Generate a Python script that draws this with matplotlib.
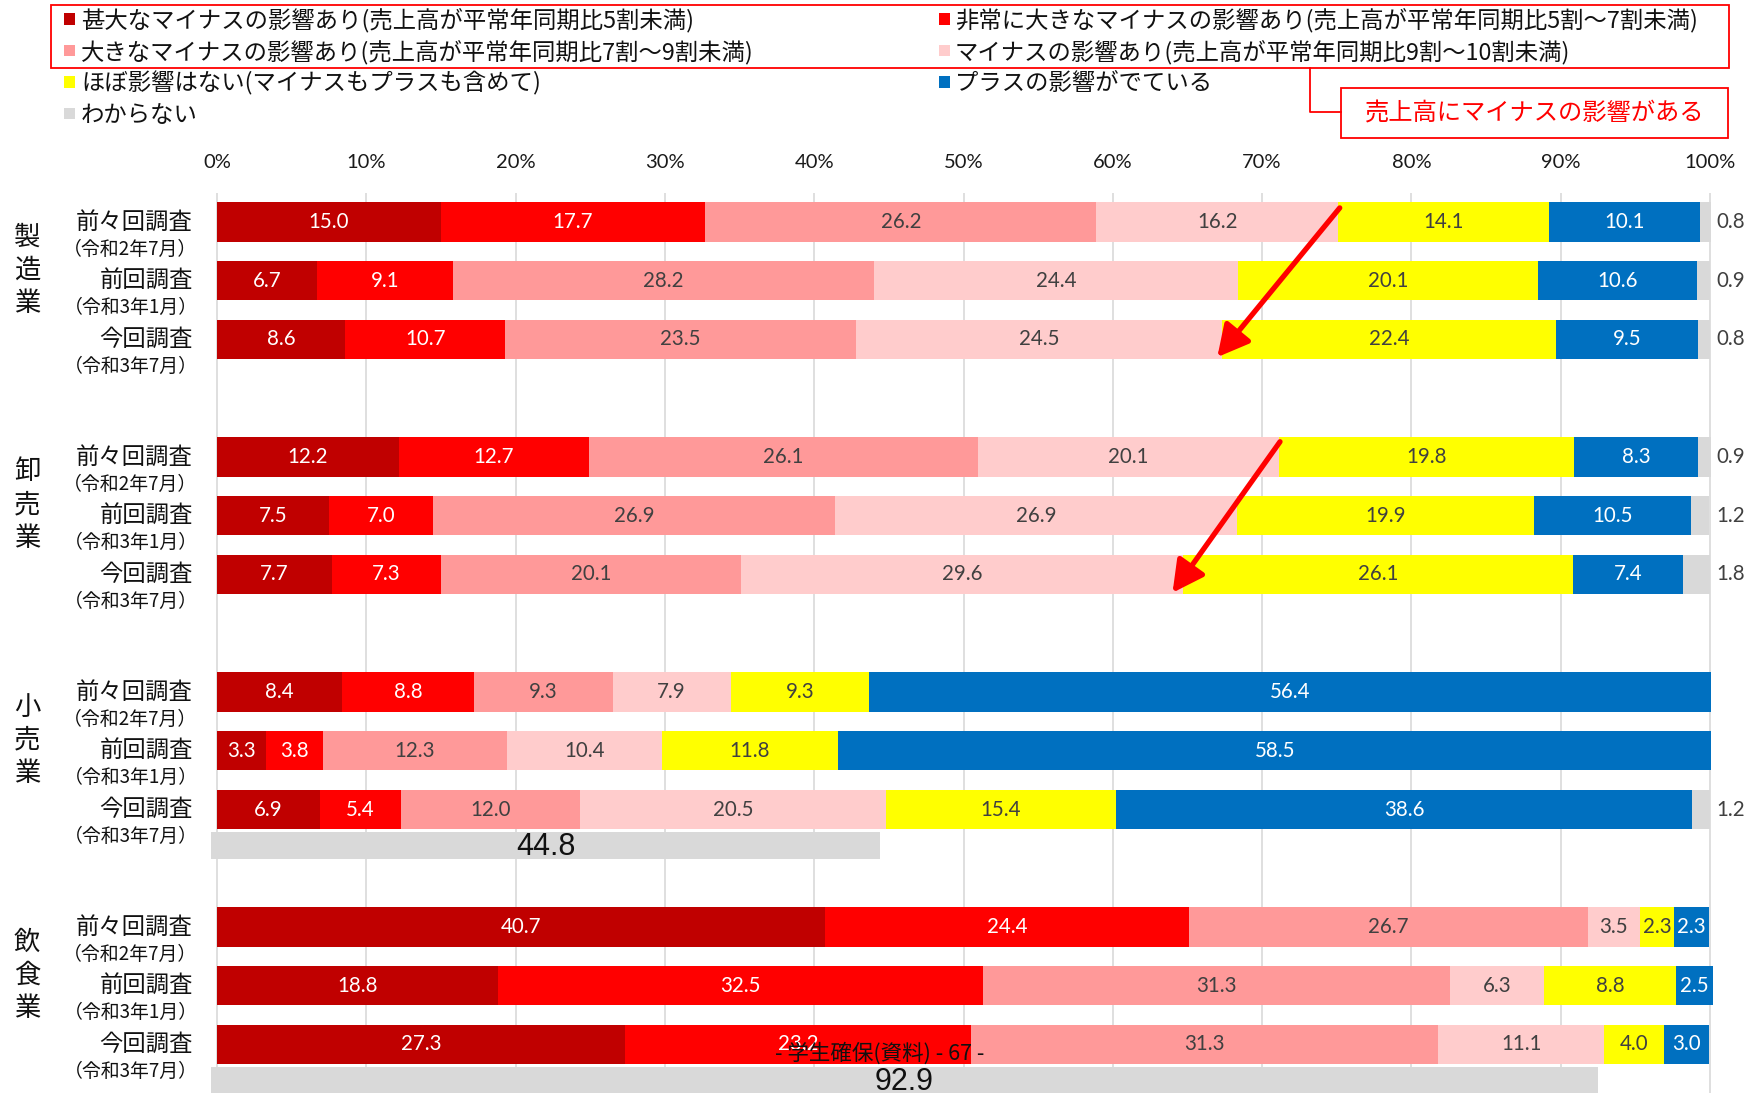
import matplotlib
matplotlib.use("Agg")
import matplotlib.pyplot as plt
from matplotlib.patches import Rectangle, FancyArrowPatch, ArrowStyle
from matplotlib.lines import Line2D

# ---- data -------------------------------------------------------------
industries = ["製造業", "卸売業", "小売業", "飲食業"]
surveys = ["前々回調査", "前回調査", "今回調査"]
survey_dates = ["（令和2年7月）", "（令和3年1月）", "（令和3年7月）"]

category_names = [
    "甚大なマイナスの影響あり(売上高が平常年同期比5割未満)",
    "非常に大きなマイナスの影響あり(売上高が平常年同期比5割～7割未満)",
    "大きなマイナスの影響あり(売上高が平常年同期比7割～9割未満)",
    "マイナスの影響あり(売上高が平常年同期比9割～10割未満)",
    "ほぼ影響はない(マイナスもプラスも含めて)",
    "プラスの影響がでている",
    "わからない",
]

# rows: 製造業 x3, 卸売業 x3, 小売業 x3, 飲食業 x3 (前々回, 前回, 今回)
severe = [15.0, 6.7, 8.6, 12.2, 7.5, 7.7, 8.4, 3.3, 6.9, 40.7, 18.8, 27.3]
very_large = [17.7, 9.1, 10.7, 12.7, 7.0, 7.3, 8.8, 3.8, 5.4, 24.4, 32.5, 23.2]
large = [26.2, 28.2, 23.5, 26.1, 26.9, 20.1, 9.3, 12.3, 12.0, 26.7, 31.3, 31.3]
minus = [16.2, 24.4, 24.5, 20.1, 26.9, 29.6, 7.9, 10.4, 20.5, 3.5, 6.3, 11.1]
no_effect = [14.1, 20.1, 22.4, 19.8, 19.9, 26.1, 9.3, 11.8, 15.4, 2.3, 8.8, 4.0]
plus = [10.1, 10.6, 9.5, 8.3, 10.5, 7.4, 56.4, 58.5, 38.6, 2.3, 2.5, 3.0]
unknown = [0.8, 0.9, 0.8, 0.9, 1.2, 1.8, 0.0, 0.0, 1.2, 0.0, 0.0, 0.0]

# combined "negative impact" totals for the latest survey (小売業, 飲食業)
negative_rows = [8, 11]
negative_totals = [44.8, 92.9]

tick_values = [0, 10, 20, 30, 40, 50, 60, 70, 80, 90, 100]
tick_labels = ["0%", "10%", "20%", "30%", "40%", "50%", "60%", "70%", "80%", "90%", "100%"]

# ---- style ------------------------------------------------------------
colors = ["#C00000", "#FF0000", "#FF9999", "#FFCCCC", "#FFFF00", "#0070C0", "#D9D9D9"]
label_colors = ["white", "white", "#404040", "#404040", "#404040", "white", "#404040"]
JP = ["Noto Sans CJK JP", "DejaVu Sans"]
NUM = ["Lato", "DejaVu Sans"]
NARROW = ["Liberation Sans Narrow", "Liberation Sans", "DejaVu Sans"]

W, H = 1763, 1093
fig = plt.figure(figsize=(W / 100, H / 100), dpi=100)


def fxy(px, py):
    return px / W, 1 - py / H


# axes geometry: 0% at x=217px, 10% = 149.3px; rows every 58.75px from y=222px
X0, XS = 217.0, 14.93
Y0, YS = 222.0, 58.75
ax_left, ax_right, ax_top, ax_bottom = 195, 1763, 193, 1093
ax = fig.add_axes([ax_left / W, 1 - ax_bottom / H,
                   (ax_right - ax_left) / W, (ax_bottom - ax_top) / H])
ax.set_xlim((ax_left - X0) / XS, (ax_right - X0) / XS)
ax.set_ylim((ax_bottom - Y0) / YS, (ax_top - Y0) / YS)
for s in ax.spines.values():
    s.set_visible(False)
ax.set_yticks([])
ax.xaxis.tick_top()
ax.set_xticks(tick_values)
ax.set_xticklabels(tick_labels, fontfamily=NUM, fontsize=14.5, color="#1a1a1a")
ax.tick_params(axis="x", length=0, pad=15.5)
ax.grid(axis="x", color="#D9D9D9", lw=1.2, zorder=0)
ax.set_axisbelow(True)

ypos = [0, 1, 2, 4, 5, 6, 8, 9, 10, 12, 13, 14]
series = [severe, very_large, large, minus, no_effect, plus, unknown]
bar_h = 0.664

left = [0.0] * len(ypos)
for si, vals in enumerate(series):
    ax.barh(ypos, vals, left=left, height=bar_h, color=colors[si], lw=0, zorder=2)
    for ri, v in enumerate(vals):
        if v <= 0:
            continue
        if si < 6:
            ax.text(left[ri] + v / 2, ypos[ri], f"{v:.1f}", ha="center", va="center",
                    fontsize=14.8, family=NUM, color=label_colors[si], zorder=3)
        else:
            ax.text(101.4, ypos[ri], f"{v:.1f}", ha="center", va="center",
                    fontsize=14.8, family=NUM, color="#404040", zorder=3)
    left = [l + v for l, v in zip(left, vals)]

# totals of the negative-impact categories
for r, tot in zip(negative_rows, negative_totals):
    yb = ypos[r] + 0.615
    ax.barh(yb, tot, left=-0.4, height=0.46, color="#D9D9D9", lw=0, zorder=2)
    ax.text(-0.4 + tot / 2, yb + 0.03, f"{tot:.1f}", ha="center", va="center",
            fontsize=22, family=NARROW, color="#111111", zorder=3)

# row labels
for gi, ind in enumerate(industries):
    for j in range(3):
        k = ypos[gi * 3 + j]
        ax.text(-1.6, k, surveys[j], ha="right", va="center", fontsize=16.8,
                family=JP, color="#111111", clip_on=False)
        ax.text(-1.3, k + 0.46, survey_dates[j], ha="right", va="center", fontsize=13.6,
                family=JP, color="#111111", clip_on=False)
    kc = ypos[gi * 3] + 0.82
    for ci, ch in enumerate(ind):
        ax.text((27 - X0) / XS, kc + (ci - 1) * 0.565, ch, ha="center", va="center",
                fontsize=19, family=JP, color="#111111", clip_on=False)

# arrows showing the shift of the negative share
arrow_style = ArrowStyle("-|>", head_length=0.95, head_width=0.5)
for (x1, y1), (x2, y2) in [((75.2, -0.24), (67.0, 2.30)), ((71.2, 3.74), (64.0, 6.31))]:
    ax.add_patch(FancyArrowPatch((x1, y1), (x2, y2), arrowstyle=arrow_style,
                                 mutation_scale=20, color="#FF0000", lw=3.8,
                                 shrinkA=0, shrinkB=0, zorder=5, clip_on=False))

# ---- legend -----------------------------------------------------------
leg_rows = [19, 50.6, 82, 113.6]
leg_cols = [(64, 81), (939, 955)]
for i, name in enumerate(category_names):
    col, row = i % 2, i // 2
    sx, tx = leg_cols[col]
    y = leg_rows[row]
    x0, y0 = fxy(sx, y + 5.5)
    fig.patches.append(Rectangle((x0, y0), 11 / W, 11 / H, transform=fig.transFigure,
                                 color=colors[i], lw=0))
    tx_, ty_ = fxy(tx, y + 1.5)
    fig.text(tx_, ty_, name, ha="left", va="center", fontsize=16.8, family=JP,
             color="#111111")

# red frame around the negative categories, with callout
bx0, by0 = fxy(51, 67.5)
fig.patches.append(Rectangle((bx0, by0), (1729 - 51) / W, (67.5 - 4.5) / H,
                             transform=fig.transFigure, fill=False, ec="#FF0000", lw=1.3))
cx = [1310, 1310, 1341]
cy = [67.5, 112, 112]
fig.lines.append(Line2D([c / W for c in cx], [1 - c / H for c in cy],
                        transform=fig.transFigure, color="#FF0000", lw=1.3))
rx0, ry0 = fxy(1341, 138)
fig.patches.append(Rectangle((rx0, ry0), (1728 - 1341) / W, (138 - 88) / H,
                             transform=fig.transFigure, fc="white", ec="#FF0000", lw=1.3))
tx_, ty_ = fxy(1535, 114)
fig.text(tx_, ty_, "売上高にマイナスの影響がある", ha="center", va="center",
         fontsize=17.5, family=JP, color="#FF0000")

# page footer
fx_, fy_ = fxy(880, 1054)
fig.text(fx_, fy_, "- 学生確保(資料) - 67 -", ha="center", va="center",
         fontsize=15.5, family=JP, color="#111111", zorder=10)

fig.savefig("out.png", dpi=100)
